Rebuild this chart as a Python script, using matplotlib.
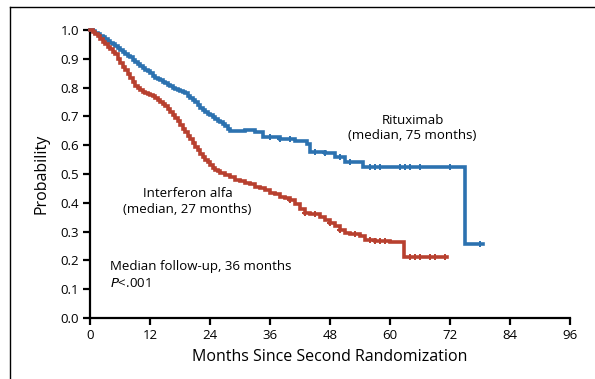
import numpy as np
import matplotlib
matplotlib.use("Agg")
import matplotlib.pyplot as plt
from matplotlib.lines import Line2D

plt.rcParams['font.family'] = ['Open Sans', 'DejaVu Sans']

# Kaplan-Meier step estimates (months, survival probability)
ritux_t = [0, 0.5, 1, 1.5, 2, 2.5, 3, 3.5, 4, 4.5, 5, 5.5, 6, 6.5, 7, 7.5, 8,
           8.5, 9, 9.5, 10, 10.5, 11, 11.5, 12, 12.5, 13, 13.5, 14, 14.5, 15,
           15.5, 16, 16.5, 17, 17.5, 18, 18.5, 19, 19.5, 20, 20.5, 21, 21.5,
           22, 22.5, 23, 23.5, 24, 24.5, 25, 25.5, 26, 26.5, 27, 27.5, 28, 31,
           33, 34.6, 38, 41, 43.4, 44, 47, 49, 51, 54.6, 75, 78.6]
ritux_s = [1.0, 0.996, 0.99, 0.985, 0.98, 0.975, 0.97, 0.962, 0.955, 0.95,
           0.945, 0.938, 0.93, 0.922, 0.915, 0.91, 0.905, 0.897, 0.89, 0.882,
           0.875, 0.868, 0.862, 0.856, 0.85, 0.842, 0.835, 0.83, 0.825, 0.82,
           0.815, 0.81, 0.805, 0.8, 0.795, 0.791, 0.787, 0.784, 0.78, 0.772,
           0.765, 0.757, 0.75, 0.74, 0.728, 0.721, 0.715, 0.71, 0.705, 0.697,
           0.69, 0.685, 0.68, 0.672, 0.665, 0.656, 0.648, 0.652, 0.645, 0.628,
           0.622, 0.615, 0.605, 0.578, 0.572, 0.56, 0.542, 0.524, 0.257, 0.257]
ritux_cens = [36, 38, 40, 45, 47, 50, 52, 56, 57, 58, 62, 63, 64, 66, 72, 78]

ifn_t = [0, 0.5, 1, 1.5, 2, 2.5, 3, 3.5, 4, 4.5, 5, 5.5, 6, 6.5, 7, 7.5, 8,
         8.5, 9, 9.5, 10, 10.5, 11, 11.5, 12, 12.5, 13, 13.5, 14, 14.5, 15,
         15.5, 16, 16.5, 17, 17.5, 18, 18.5, 19, 19.5, 20, 20.5, 21, 21.5, 22,
         22.5, 23, 23.5, 24, 24.5, 25, 25.5, 26, 27, 28, 29, 30, 31, 32, 33,
         34, 35, 36, 37, 38, 39, 40, 41, 42, 43, 44, 46, 47, 48, 49, 50, 51,
         52, 54, 55, 57, 60, 62.7, 71.4]
ifn_s = [1.0, 0.993, 0.985, 0.978, 0.97, 0.96, 0.95, 0.942, 0.935, 0.925,
         0.915, 0.9, 0.885, 0.872, 0.86, 0.848, 0.835, 0.82, 0.805, 0.797,
         0.79, 0.785, 0.78, 0.777, 0.775, 0.77, 0.765, 0.758, 0.75, 0.742,
         0.735, 0.725, 0.715, 0.705, 0.695, 0.683, 0.67, 0.657, 0.645, 0.632,
         0.62, 0.607, 0.595, 0.582, 0.57, 0.56, 0.55, 0.54, 0.53, 0.522,
         0.515, 0.51, 0.505, 0.495, 0.49, 0.48, 0.475, 0.47, 0.465, 0.455,
         0.45, 0.445, 0.435, 0.43, 0.42, 0.415, 0.41, 0.395, 0.38, 0.365,
         0.36, 0.35, 0.34, 0.33, 0.318, 0.305, 0.295, 0.29, 0.285, 0.27,
         0.268, 0.265, 0.212, 0.212]
ifn_cens = [40, 43, 45, 48, 50, 53, 56, 57, 58, 59, 64, 65, 66, 68, 69, 71]

x_ticks = [0, 12, 24, 36, 48, 60, 72, 84, 96]
y_ticks = [0.0, 0.1, 0.2, 0.3, 0.4, 0.5, 0.6, 0.7, 0.8, 0.9, 1.0]

BLUE = '#2c72b0'
RED = '#b8402f'


def step_value(t, s, x):
    i = np.searchsorted(t, x, side='right') - 1
    return np.asarray(s)[i]


fig = plt.figure(figsize=(5.95, 3.79), dpi=100)
ax = fig.add_axes([90 / 595, 61 / 379, 480 / 595, 288 / 379])

for t, s, cens, col in [(ritux_t, ritux_s, ritux_cens, BLUE),
                        (ifn_t, ifn_s, ifn_cens, RED)]:
    ax.plot(t, s, drawstyle='steps-post', color=col, lw=2.6,
            solid_joinstyle='miter', clip_on=False, zorder=3)
    ax.plot(cens, step_value(t, s, cens), ls='none', marker='+', ms=5,
            mew=1.4, color=col, clip_on=False, zorder=4)

ax.set_xlim(0, 96)
ax.set_ylim(0, 1.0)
ax.set_xticks(x_ticks)
ax.set_xticklabels([str(v) for v in x_ticks])
ax.set_yticks(y_ticks)
ax.set_yticklabels([f"{v:.1f}" for v in y_ticks])
for side in ['top', 'right']:
    ax.spines[side].set_visible(False)
for side in ['left', 'bottom']:
    ax.spines[side].set_linewidth(1.6)
ax.tick_params(direction='out', length=5, width=1.6, labelsize=9.5, pad=3)
ax.set_xlabel('Months Since Second Randomization', fontsize=11.5, labelpad=5)
ax.set_ylabel('Probability', fontsize=11.5, labelpad=8)

ax.text(64.5, 0.66, 'Rituximab\n(median, 75 months)', ha='center',
        va='center', fontsize=9.5, linespacing=1.25)
ax.text(19.5, 0.405, 'Interferon alfa\n(median, 27 months)', ha='center',
        va='center', fontsize=9.5, linespacing=1.25)
ax.text(4, 0.18, 'Median follow-up, 36 months', ha='left', va='center',
        fontsize=9.5)
ax.text(4, 0.12, r'$\it{P}$<.001', ha='left', va='center', fontsize=9.5)

# outer frame lines along the top and left edges
fig.add_artist(Line2D([10 / 595, 1.0], [1 - 7 / 379, 1 - 7 / 379],
                      transform=fig.transFigure, color='black', lw=1.0))
fig.add_artist(Line2D([10 / 595, 10 / 595], [0, 1 - 7 / 379],
                      transform=fig.transFigure, color='black', lw=1.0))

fig.savefig('out.png', dpi=100)
